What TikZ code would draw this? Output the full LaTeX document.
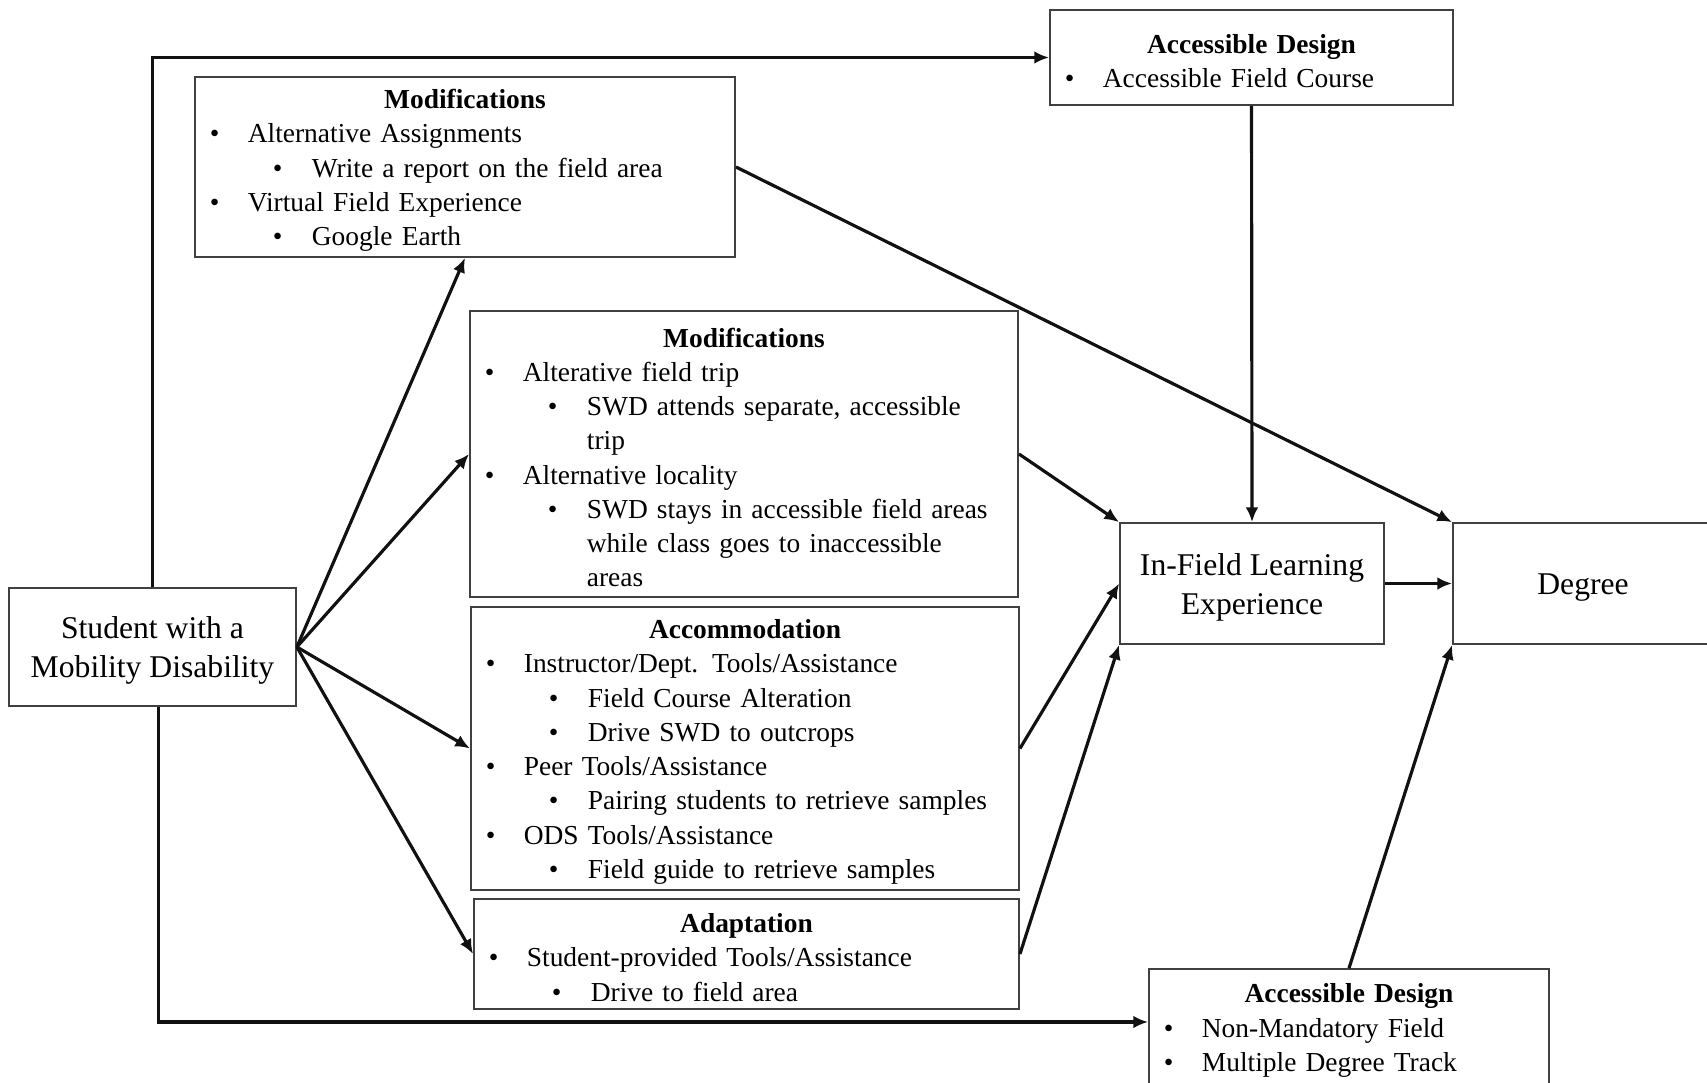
\documentclass[tikz,border=0pt]{standalone}
\usepackage{fontspec}
\setmainfont{Liberation Serif}
\usetikzlibrary{arrows.meta,positioning}
\definecolor{ink}{HTML}{111111}
\definecolor{frame}{HTML}{404040}
% bullet levels inside the boxes
\newcommand\bA[1]{\noindent\hspace*{0.15cm}\makebox[0.38cm][l]{\textbullet}#1}
\newcommand\bB[1]{\noindent\hspace*{0.78cm}\makebox[0.39cm][l]{\textbullet}#1}
\newcommand\bC[1]{\noindent\hspace*{1.17cm}#1}
\newcommand\hd[1]{{\centering\bfseries #1\par}}
\newcommand\boxend{\par\vspace{-0.07cm}}
\newcommand\tallstrut{\rule{0pt}{8.3pt}}

\begin{document}
\begin{tikzpicture}[x=0.01cm,y=-0.01cm,>={Latex[length=4.2pt,width=3.6pt]},
  box/.style={draw=frame,line width=0.45pt,inner sep=0pt,align=left,font=\fontsize{7.8}{9.74}\selectfont,
    execute at end node=\boxend},
  big/.style={draw=frame,line width=0.45pt,align=center,font=\fontsize{9}{11}\selectfont},
  link/.style={->,line width=0.9pt,ink}]
\useasboundingbox (0,0) rectangle (1707,1082);
\node[box,text width=4.03cm,minimum height=0.95cm] (adtop) at (1251.5,57.5) {\hd{Accessible Design}\bA{Accessible Field Course}};
\node[box,text width=5.40cm,minimum height=1.80cm] (mod1) at (465,167) {\hd{Modifications}\bA{Alternative Assignments}\\
\bB{Write a report on the field area}\\
\bA{Virtual Field Experience}\\
\bB{Google Earth}};
\node[box,text width=5.48cm,minimum height=2.86cm] (mod2) at (744,454) {\hd{Modifications}\bA{Alterative field trip}\\
\bB{SWD attends separate, accessible}\\
\bC{trip}\\
\bA{Alternative locality}\\
\bB{SWD stays in accessible field areas}\\
\bC{while class goes to inaccessible}\\
\bC{areas}};
\node[box,text width=5.48cm,minimum height=2.83cm] (accom) at (745,748.5) {\hd{Accommodation}\bA{Instructor/Dept. Tools/Assistance}\\
\bB{Field Course Alteration}\\
\bB{Drive SWD to outcrops}\\
\bA{Peer Tools/Assistance}\\
\bB{Pairing students to retrieve samples}\\
\bA{ODS Tools/Assistance}\\
\bB{Field guide to retrieve samples}};
\node[box,text width=5.45cm,minimum height=1.10cm] (adapt) at (746.5,954) {\hd{Adaptation}\bA{Student-provided Tools/Assistance}\\
\bB{Drive to field area}};
\node[box,text width=4.00cm,minimum height=1.16cm] (adbot) at (1349,1027) {\hd{Accessible Design}\bA{Non-Mandatory Field}\\
\bA{Multiple Degree Track}};
\node[big,minimum width=2.87cm,minimum height=1.18cm] (student) at (152.5,647) {\tallstrut Student with a\\Mobility Disability};
\node[big,minimum width=2.64cm,minimum height=1.21cm] (infield) at (1252,583.5) {\tallstrut In-Field Learning\\Experience};
\node[big,minimum width=2.60cm,minimum height=1.21cm] (degree) at (1583,583.5) {\tallstrut Degree};
% connectors
\draw[link] (student.north) |- (adtop.west);
\draw[link] ([xshift=0.06cm]student.south) |- ([yshift=0.05cm]adbot.west);
\foreach \t/\a in {mod1/south,mod2/west,accom/west,adapt/west}
  \draw[link] (student.east) -- (\t.\a);
\draw[link] (mod1.east) -- (degree.north west);
\draw[link] (mod2.east) -- (infield.north west);
\draw[link] (accom.east) -- (infield.west);
\draw[link] (adapt.east) -- (infield.south west);
\draw[link] (adtop.south) -- (infield.north);
\draw[link] (infield.east) -- (degree.west);
\draw[link] (adbot.north) -- (degree.south west);
\end{tikzpicture}
\end{document}
